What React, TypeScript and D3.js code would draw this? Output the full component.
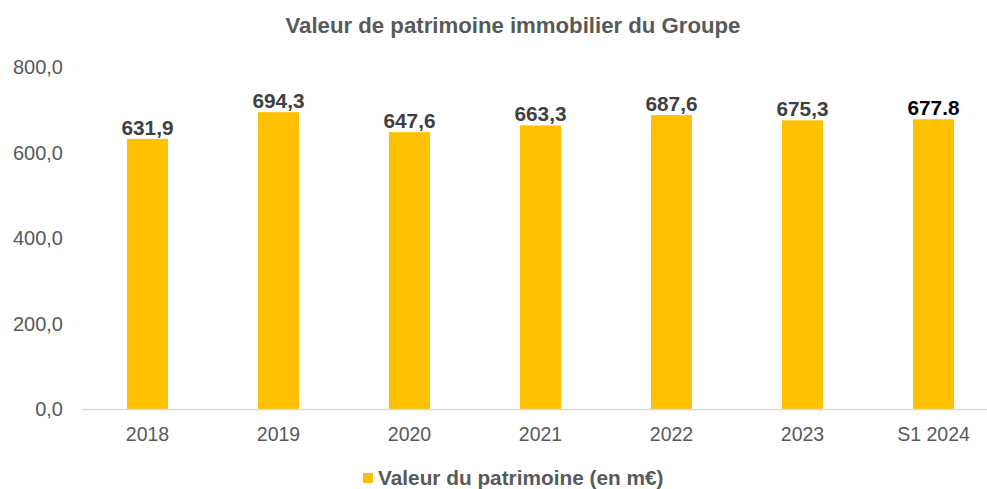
import React from "react";
import * as d3 from "d3";

const categories = ["2018", "2019", "2020", "2021", "2022", "2023", "S1 2024"];
const values = [631.9, 694.3, 647.6, 663.3, 687.6, 675.3, 677.8];
const valueLabels = ["631,9", "694,3", "647,6", "663,3", "687,6", "675,3", "677.8"];
const yTicks = [0, 200, 400, 600, 800];
const title = "Valeur de patrimoine immobilier du Groupe";
const legendLabel = "Valeur du patrimoine (en m€)";

const W = 987;
const H = 489;
const left = 82;
const right = 999;
const top = 67;
const bottom = 409;
const font = "Arial, 'Liberation Sans', sans-serif";

export default function App() {
  const x = d3.scaleBand<string>().domain(categories).range([left, right]).paddingInner(0.687).paddingOuter(0.3435);
  const y = d3.scaleLinear().domain([0, 800]).range([bottom, top]);
  const fmt = (v: number) => d3.format(".1f")(v).replace(".", ",");
  return (
    <svg width={W} height={H} style={{ position: "absolute", left: 0, top: 0, background: "#fff" }} fontFamily={font}>
      <text x={513} y={33} textAnchor="middle" fontSize={22.2} fontWeight="bold" fill="#595959">
        {title}
      </text>
      {yTicks.map((t) => (
        <text key={t} x={63} y={y(t) + 7} textAnchor="end" fontSize={20} fill="#595959">
          {fmt(t)}
        </text>
      ))}
      {categories.map((c, i) => (
        <g key={c}>
          <rect x={x(c)} y={y(values[i])} width={x.bandwidth()} height={bottom - y(values[i])} fill="#FFC000" />
          <text
            x={(x(c) as number) + x.bandwidth() / 2}
            y={y(values[i]) - 4}
            textAnchor="middle"
            fontSize={20.8}
            fontWeight="bold"
            fill={i === categories.length - 1 ? "#000000" : "#404040"}
          >
            {valueLabels[i]}
          </text>
          <text
            x={(x(c) as number) + x.bandwidth() / 2}
            y={441}
            textAnchor="middle"
            fontSize={19.5}
            fill="#595959"
          >
            {c}
          </text>
        </g>
      ))}
      <line x1={left} x2={right} y1={bottom + 0.5} y2={bottom + 0.5} stroke="#D9D9D9" strokeWidth={1.5} />
      <rect x={363} y={473} width={10} height={10} fill="#FFC000" />
      <text x={378} y={485} fontSize={20.8} fontWeight="bold" fill="#595959">
        {legendLabel}
      </text>
    </svg>
  );
}
